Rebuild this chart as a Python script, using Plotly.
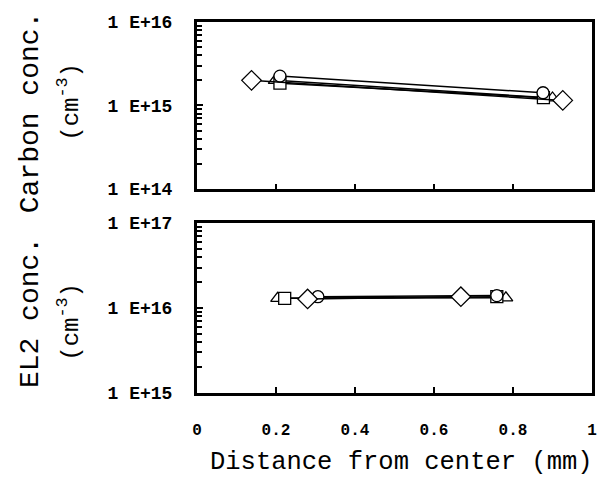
import plotly.graph_objects as go

# Carbon concentration (top panel)
carbon_x = {
    "diamond": [0.138, 0.926],
    "circle": [0.210, 0.876],
    "square": [0.210, 0.877],
    "triangle": [0.198, 0.900],
}
carbon_y = {
    "diamond": [2.0e15, 1.15e15],
    "circle": [2.25e15, 1.42e15],
    "square": [1.85e15, 1.24e15],
    "triangle": [2.0e15, 1.23e15],
}
# EL2 concentration (bottom panel)
el2_x = {
    "diamond": [0.280, 0.668],
    "circle": [0.306, 0.759],
    "square": [0.222, 0.759],
    "triangle": [0.204, 0.782],
}
el2_y = {
    "diamond": [1.28e16, 1.36e16],
    "circle": [1.36e16, 1.40e16],
    "square": [1.30e16, 1.36e16],
    "triangle": [1.30e16, 1.32e16],
}
series_order = ["triangle", "square", "circle", "diamond"]
marker_sizes = {"diamond": 15, "circle": 12, "square": 12, "triangle": 12}
marker_symbols = {"diamond": "diamond", "circle": "circle", "square": "square", "triangle": "triangle-up"}

x_ticks = [0, 0.2, 0.4, 0.6, 0.8, 1]
x_ticklabels = ["0", "0.2", "0.4", "0.6", "0.8", "1"]
top_ticks = [1e14, 1e15, 1e16]
top_ticklabels = ["1 E+14", "1 E+15", "1 E+16"]
bot_ticks = [1e15, 1e16, 1e17]
bot_ticklabels = ["1 E+15", "1 E+16", "1 E+17"]
minor_mult = [2, 3, 4, 5, 6, 7, 8, 9]

FONT = "Liberation Mono"

top_minor = [m * t for t in top_ticks[:-1] for m in minor_mult]
bot_minor = [m * t for t in bot_ticks[:-1] for m in minor_mult]

fig = go.Figure()

for name in series_order:
    for xs, ys, xa, ya in [(carbon_x, carbon_y, "x", "y"), (el2_x, el2_y, "x2", "y2")]:
        fig.add_trace(go.Scatter(
            x=xs[name], y=ys[name], mode="lines+markers",
            line=dict(color="black", width=1.5),
            marker=dict(symbol=marker_symbols[name], size=marker_sizes[name], color="white",
                        line=dict(color="black", width=1.3)),
            xaxis=xa, yaxis=ya, showlegend=False))

axis_common = dict(showline=True, linecolor="black", linewidth=3, mirror=True,
                   showgrid=False, zeroline=False)
tickfont = dict(size=18, family=FONT, weight="bold", color="black")

fig.update_layout(
    width=601, height=485,
    margin=dict(l=197, r=4, t=22, b=92),
    paper_bgcolor="white", plot_bgcolor="white",
    font=dict(family=FONT, color="black"),
    xaxis=dict(domain=[0, 1], range=[0, 1], anchor="y", tickvals=x_ticks,
               showticklabels=False, ticks="inside", ticklen=5, tickwidth=2,
               tickcolor="black", **axis_common),
    yaxis=dict(domain=[0.55, 1], type="log", range=[14, 16], anchor="x",
               tickvals=top_ticks, ticktext=top_ticklabels, ticks="inside",
               ticklen=6, tickwidth=2, tickcolor="black", tickfont=tickfont,
               ticklabelstandoff=18,
               minor=dict(ticks="inside", ticklen=5, tickwidth=2, tickcolor="black",
                          tickvals=top_minor),
               **axis_common),
    xaxis2=dict(domain=[0, 1], range=[0, 1], anchor="y2", tickvals=x_ticks,
                ticktext=x_ticklabels, ticks="inside", ticklen=6, tickwidth=2,
                tickcolor="black", tickfont=dict(size=16, family=FONT, weight="bold"),
                ticklabelstandoff=20,
                **axis_common),
    yaxis2=dict(domain=[0, 0.458], type="log", range=[15, 17], anchor="x2",
                tickvals=bot_ticks, ticktext=bot_ticklabels, ticks="inside",
                ticklen=6, tickwidth=2, tickcolor="black", tickfont=tickfont,
                ticklabelstandoff=18,
                minor=dict(ticks="inside", ticklen=5, tickwidth=2, tickcolor="black",
                           tickvals=bot_minor),
                **axis_common),
)

title_font = dict(size=28, family=FONT, color="black")
unit_font = dict(size=24, family=FONT, color="black")
fig.add_annotation(text="Distance from center (mm)", xref="paper", yref="paper",
                   x=0.5175, y=-0.186, xanchor="center", yanchor="middle",
                   showarrow=False, font=dict(size=25.5, family=FONT, color="black"))
fig.add_annotation(text="Carbon conc.", xref="paper", yref="paper", x=-0.4225, y=0.757,
                   xanchor="center", yanchor="middle", textangle=-90, showarrow=False,
                   font=title_font)
fig.add_annotation(text="(cm<sup>-3</sup>)", xref="paper", yref="paper", x=-0.325, y=0.784,
                   xanchor="center", yanchor="middle", textangle=-90, showarrow=False,
                   font=unit_font)
fig.add_annotation(text="EL2 conc.", xref="paper", yref="paper", x=-0.4225, y=0.2156,
                   xanchor="center", yanchor="middle", textangle=-90, showarrow=False,
                   font=title_font)
fig.add_annotation(text="(cm<sup>-3</sup>)", xref="paper", yref="paper", x=-0.325, y=0.191,
                   xanchor="center", yanchor="middle", textangle=-90, showarrow=False,
                   font=unit_font)

fig.write_html("out.html")
